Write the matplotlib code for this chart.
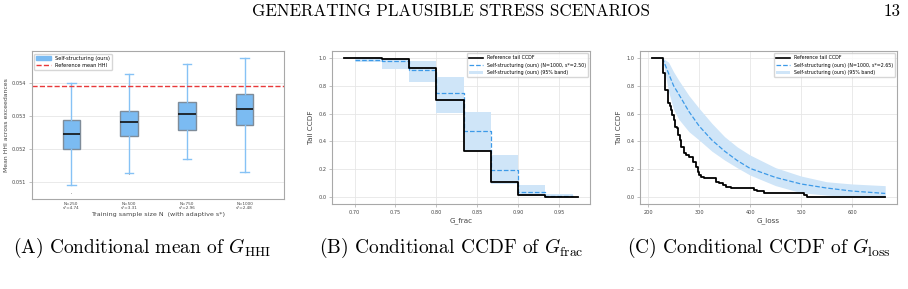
import matplotlib.pyplot as plt
from matplotlib.patches import Patch
from matplotlib.lines import Line2D

plt.rcParams['mathtext.fontset'] = 'cm'

# --------------- panel A: mean HHI boxes ---------------
hhi_labels = ['N=250\ns*=4.74', 'N=500\ns*=3.31', 'N=750\ns*=2.96', 'N=1000\ns*=2.48']
hhi_whislo = [0.05089, 0.05127, 0.05170, 0.05129]
hhi_q1 = [0.05199, 0.05238, 0.05258, 0.05272]
hhi_med = [0.05245, 0.05281, 0.05305, 0.05320]
hhi_q3 = [0.05287, 0.05316, 0.05344, 0.05366]
hhi_whishi = [0.05400, 0.05427, 0.05458, 0.05478]
hhi_fliers = [[0.05064], [0.05122], [], []]
hhi_ref = 0.05391

# --------------- panel B: G_frac CCDF ---------------
frac_ref_x = [0.6867, 0.7333, 0.7667, 0.8000, 0.8333, 0.8667, 0.9000, 0.9333, 0.9733]
frac_ref_y = [1.000, 0.990, 0.928, 0.698, 0.329, 0.106, 0.017, 0.000, 0.000]
frac_edges = [0.7000, 0.7333, 0.7667, 0.8000, 0.8333, 0.8667, 0.9000, 0.9333, 0.9667]
frac_mid = [0.986, 0.978, 0.914, 0.750, 0.475, 0.194, 0.036, 0.010]
frac_lo = [0.970, 0.923, 0.830, 0.607, 0.331, 0.094, 0.010, 0.000]
frac_hi = [1.000, 0.990, 0.978, 0.861, 0.612, 0.300, 0.084, 0.022]

# --------------- panel C: G_loss CCDF ---------------
loss_ref_x = [207, 228.5, 233.7, 238.9, 242.2, 245.4, 247.3, 250.6, 253.2, 255.8,
              258.4, 261.6, 264.9, 270.0, 274.6, 281.1, 287.5, 294.0, 297.3, 300.5,
              303.8, 310.2, 316.7, 333.0, 339.4, 345.9, 352.4, 362.1, 407.5, 414.0,
              427.0, 504.8, 511.3, 665]
loss_ref_y = [1.000, 0.890, 0.770, 0.674, 0.655, 0.626, 0.590, 0.554, 0.506, 0.494,
              0.446, 0.410, 0.362, 0.314, 0.302, 0.290, 0.254, 0.218, 0.182, 0.158,
              0.146, 0.139, 0.139, 0.110, 0.098, 0.086, 0.074, 0.062, 0.050, 0.046,
              0.031, 0.014, 0.000, 0.000]
loss_x = [228, 240, 250, 260, 280, 300, 325, 350, 375, 400, 450, 500, 550, 600, 665]
loss_mid = [1.0, 0.89, 0.80, 0.74, 0.615, 0.511, 0.41, 0.33, 0.262, 0.206, 0.141, 0.094, 0.065, 0.043, 0.026]
loss_hi = [1.0, 0.97, 0.90, 0.84, 0.73, 0.638, 0.53, 0.434, 0.36, 0.302, 0.211, 0.151, 0.110, 0.094, 0.082]
loss_lo = [1.0, 0.76, 0.63, 0.56, 0.47, 0.41, 0.33, 0.266, 0.21, 0.158, 0.082, 0.031, 0.014, 0.002, 0.0]

BLUE = '#3d9ae8'
BAND = '#cfe5f8'
BOX = '#7bbbf2'
GRID = '#e6e6e6'
SPINE = '#a8a8a8'


def style(ax, tick=3.6):
    for s in ax.spines.values():
        s.set_color(SPINE)
        s.set_linewidth(0.8)
    ax.tick_params(labelsize=tick, length=2, width=0.5, color=SPINE, labelcolor='#444444', pad=2)
    ax.set_axisbelow(True)


fig = plt.figure(figsize=(9.08, 2.89), dpi=100)

# header + captions
fig.text(0.4967, 0.962, 'GENERATING PLAUSIBLE STRESS SCENARIOS', family='cmr10',
         fontsize=12.2, ha='center', va='center')
fig.text(0.983, 0.962, '13', family='cmr10', fontsize=12.2, ha='center', va='center')
caps = [(0.157, r'(A) Conditional mean of $G_{\mathrm{HHI}}$'),
        (0.497, r'(B) Conditional CCDF of $G_{\mathrm{frac}}$'),
        (0.836, r'(C) Conditional CCDF of $G_{\mathrm{loss}}$')]
for x, t in caps:
    fig.text(x, 0.142, t, family='cmr10', fontsize=14, ha='center', va='center')

# ---- A ----
axA = fig.add_axes([0.0352, 0.3114, 0.2775, 0.512])
stats = []
for i in range(len(hhi_labels)):
    stats.append(dict(med=hhi_med[i], q1=hhi_q1[i], q3=hhi_q3[i],
                      whislo=hhi_whislo[i], whishi=hhi_whishi[i], fliers=hhi_fliers[i]))
axA.bxp(stats, positions=range(1, 5), widths=0.3, patch_artist=True,
        boxprops=dict(facecolor=BOX, edgecolor='#7f8c99', linewidth=1.0),
        whiskerprops=dict(color='#86c2f5', linewidth=1.0),
        capprops=dict(color='#86c2f5', linewidth=1.0),
        medianprops=dict(color='#111111', linewidth=1.2),
        flierprops=dict(marker='.', markersize=1.5, markerfacecolor='#aaaaaa', markeredgecolor='none'))
axA.axhline(hhi_ref, color='#e8393a', linestyle='--', linewidth=1.0)
axA.set_xlim(0.32, 4.68)
axA.set_ylim(0.05047, 0.05498)
axA.set_yticks([0.051, 0.052, 0.053, 0.054])
axA.set_xticks(range(1, 5))
axA.set_xticklabels(hhi_labels, fontsize=3)
axA.yaxis.grid(True, color=GRID, linewidth=0.6)
style(axA)
axA.tick_params(axis='x', labelsize=3, length=0)
axA.set_xlabel('Training sample size N  (with adaptive s*)', fontsize=4.6, color='#444444', labelpad=1)
axA.set_ylabel('Mean HHI across exceedances', fontsize=4.4, color='#444444', labelpad=2)
axA.legend(handles=[Patch(facecolor=BOX, edgecolor='#7bbbf2', label='Self-structuring (ours)'),
                    Line2D([], [], color='#e8393a', linestyle='--', linewidth=1.0, label='Reference mean HHI')],
           loc='upper left', fontsize=3.6, frameon=True, edgecolor='#cccccc', handlelength=3)

# ---- B ----
axB = fig.add_axes([0.3656, 0.2941, 0.2841, 0.5294])
axB.fill_between(frac_edges, frac_lo + [frac_lo[-1]], frac_hi + [frac_hi[-1]],
                 step='post', color=BAND, linewidth=0)
axB.plot(frac_edges, frac_mid + [frac_mid[-1]], drawstyle='steps-post',
         color=BLUE, linestyle='--', linewidth=0.9)
axB.plot(frac_ref_x, frac_ref_y, drawstyle='steps-post', color='black', linewidth=1.3)
axB.set_xlim(0.6724, 0.9876)
axB.set_ylim(-0.05, 1.05)
axB.set_xticks([0.70, 0.75, 0.80, 0.85, 0.90, 0.95])
axB.set_yticks([0.0, 0.2, 0.4, 0.6, 0.8, 1.0])
axB.grid(True, color=GRID, linewidth=0.6)
style(axB)
axB.set_xlabel('G_frac', fontsize=5.2, color='#444444', labelpad=2)
axB.set_ylabel('Tail CCDF', fontsize=5.2, color='#444444', labelpad=3)
axB.legend(handles=[Line2D([], [], color='black', linewidth=1.2, label='Reference tail CCDF'),
                    Line2D([], [], color=BLUE, linestyle='--', linewidth=0.9,
                           label='Self-structuring (ours) (N=1000, s*=2.50)'),
                    Patch(facecolor=BAND, label='Self-structuring (ours) (95% band)')],
           loc='upper right', fontsize=3.4, frameon=True, edgecolor='#cccccc', handlelength=3)

# ---- C ----
axC = fig.add_axes([0.7048, 0.2941, 0.283, 0.5294])
axC.fill_between(loss_x, loss_lo, loss_hi, color=BAND, linewidth=0)
axC.plot(loss_x, loss_mid, color=BLUE, linestyle='--', linewidth=0.9)
axC.plot(loss_ref_x, loss_ref_y, drawstyle='steps-post', color='black', linewidth=1.3)
axC.set_xlim(184, 688)
axC.set_ylim(-0.05, 1.05)
axC.set_xticks([200, 300, 400, 500, 600])
axC.set_yticks([0.0, 0.2, 0.4, 0.6, 0.8, 1.0])
axC.grid(True, color=GRID, linewidth=0.6)
style(axC)
axC.set_xlabel('G_loss', fontsize=5.2, color='#444444', labelpad=2)
axC.set_ylabel('Tail CCDF', fontsize=5.2, color='#444444', labelpad=3)
axC.legend(handles=[Line2D([], [], color='black', linewidth=1.2, label='Reference tail CCDF'),
                    Line2D([], [], color=BLUE, linestyle='--', linewidth=0.9,
                           label='Self-structuring (ours) (N=1000, s*=2.65)'),
                    Patch(facecolor=BAND, label='Self-structuring (ours) (95% band)')],
           loc='upper right', fontsize=3.4, frameon=True, edgecolor='#cccccc', handlelength=3)

fig.savefig('out.png', dpi=100)
